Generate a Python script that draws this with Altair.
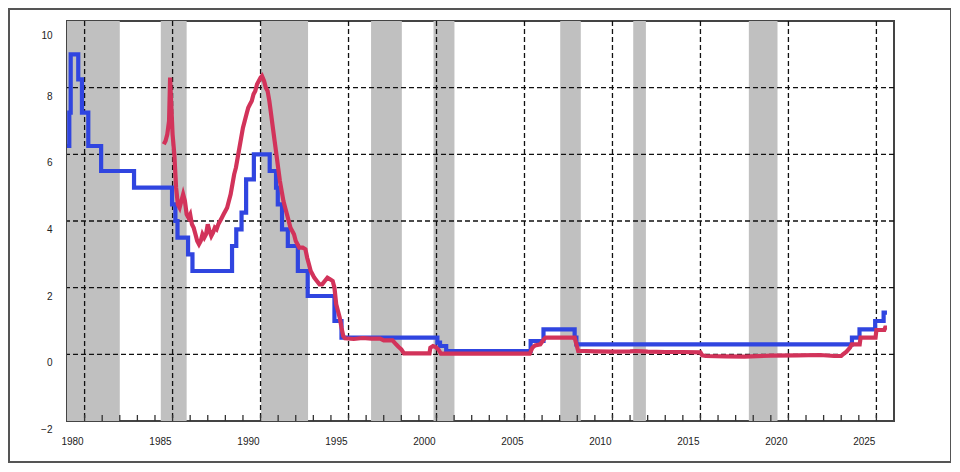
import altair as alt
import pandas as pd

# Official discount rate / basic loan rate (step series)
blue_t = [1980.0, 1980.13, 1980.21, 1980.64, 1980.85, 1981.21, 1981.94, 1983.81,
          1985.97, 1986.16, 1986.28, 1986.88, 1987.13, 1989.38, 1989.62, 1989.92,
          1990.18, 1990.62, 1991.52, 1991.88, 1991.98, 1992.22, 1992.55, 1993.12,
          1993.68, 1995.2, 1995.6, 2001.05, 2001.2, 2001.55, 2006.35, 2007.08,
          2008.85, 2008.95, 2024.61, 2025.04, 2025.93, 2026.41, 2026.6]
blue_v = [6.25, 7.25, 9.0, 8.25, 7.25, 6.25, 5.5, 5.0,
          4.5, 4.0, 3.5, 3.0, 2.5, 3.25, 3.75, 4.25,
          5.25, 6.0, 5.5, 5.0, 4.5, 3.75, 3.25, 2.5,
          1.75, 1.0, 0.5, 0.35, 0.25, 0.1, 0.4, 0.75,
          0.5, 0.3, 0.5, 0.75, 1.0, 1.25, 1.25]

# Call rate (monthly)
red_t = [1985.5, 1985.6, 1985.7, 1985.8, 1985.86, 1985.9, 1985.95, 1986.0, 1986.1, 1986.2,
         1986.3, 1986.4, 1986.5, 1986.6, 1986.7, 1986.8, 1986.9, 1987.0, 1987.1, 1987.2,
         1987.3, 1987.4, 1987.5, 1987.6, 1987.7, 1987.8, 1987.9, 1988.0, 1988.1, 1988.2,
         1988.3, 1988.4, 1988.5, 1988.6, 1988.7, 1988.8, 1988.9, 1989.0, 1989.1, 1989.2,
         1989.3, 1989.4, 1989.5, 1989.6, 1989.7, 1989.8, 1989.9, 1990.0, 1990.1, 1990.2,
         1990.3, 1990.4, 1990.5, 1990.6, 1990.7, 1990.8, 1990.9, 1991.0, 1991.08, 1991.2,
         1991.3, 1991.4, 1991.5, 1991.6, 1991.7, 1991.8, 1991.9, 1992.0, 1992.1, 1992.2,
         1992.3, 1992.4, 1992.5, 1992.6, 1992.7, 1992.8, 1992.9, 1993.0, 1993.1, 1993.2,
         1993.3, 1993.4, 1993.55, 1993.65, 1993.75, 1993.85, 1993.95, 1994.05, 1994.2, 1994.35,
         1994.5, 1994.65, 1994.8, 1994.95, 1995.1, 1995.2, 1995.3, 1995.4, 1995.5, 1995.6,
         1995.7, 1995.8, 1996.3, 1996.8, 1997.3, 1997.8, 1998.0, 1998.5, 1998.7, 1998.85,
         1999.0, 1999.15, 2000.6, 2000.65, 2000.8, 2000.95, 2001.1, 2001.25, 2006.3, 2006.45,
         2006.6, 2006.9, 2007.1, 2007.2, 2008.85, 2008.95, 2009.05, 2009.5, 2010.0, 2011.0,
         2012.0, 2012.3, 2012.7, 2013.0, 2014.0, 2015.0, 2016.0, 2016.1, 2016.3, 2017.4,
         2018.5, 2020.0, 2021.5, 2022.8, 2023.6, 2024.0, 2024.1, 2024.3, 2024.5, 2024.6,
         2025.05, 2025.1, 2025.95, 2026.0, 2026.45, 2026.5, 2026.6]
red_v = [6.3, 6.4, 6.6, 7.0, 8.3, 7.8, 7.2, 6.6, 6.0, 5.0,
         4.5, 4.4, 4.6, 4.8, 4.6, 4.2, 4.1, 4.2, 3.9, 3.8,
         3.6, 3.4, 3.3, 3.4, 3.6, 3.5, 3.6, 3.9, 3.7, 3.55,
         3.65, 3.8, 3.75, 3.9, 4.0, 4.1, 4.2, 4.3, 4.4, 4.6,
         4.8, 5.1, 5.4, 5.6, 5.9, 6.2, 6.5, 6.8, 7.0, 7.2,
         7.4, 7.5, 7.6, 7.8, 7.9, 8.1, 8.2, 8.3, 8.35, 8.2,
         8.0, 7.9, 7.6, 7.2, 6.8, 6.4, 6.0, 5.6, 5.2, 4.9,
         4.6, 4.4, 4.2, 4.0, 3.8, 3.7, 3.6, 3.4, 3.3, 3.2,
         3.2, 3.2, 3.15, 2.9, 2.7, 2.5, 2.4, 2.3, 2.2, 2.1,
         2.1, 2.2, 2.3, 2.25, 2.2, 2.0, 1.5, 1.3, 1.1, 0.8,
         0.55, 0.48, 0.46, 0.49, 0.47, 0.47, 0.42, 0.42, 0.3, 0.22,
         0.15, 0.03, 0.03, 0.2, 0.25, 0.22, 0.15, 0.02, 0.02, 0.2,
         0.27, 0.3, 0.45, 0.5, 0.5, 0.3, 0.1, 0.1, 0.09, 0.08,
         0.09, 0.1, 0.09, 0.08, 0.07, 0.07, 0.06, -0.03, -0.05, -0.06,
         -0.07, -0.04, -0.03, -0.02, -0.05, -0.05, 0.0, 0.08, 0.2, 0.3,
         0.3, 0.5, 0.5, 0.73, 0.73, 0.8, 0.8]

# Recession periods
rec_start = [1980.0, 1985.33, 1991.03, 1997.28, 2000.83, 2008.03, 2012.18, 2018.75]
rec_end = [1983.0, 1986.8, 1993.7, 1999.03, 2002.02, 2009.2, 2012.9, 2020.38]

grid_x = [1981, 1986, 1991, 1996, 2001, 2006, 2011, 2016, 2021, 2026]
grid_y = [0, 2, 4, 6, 8]
tick_years = list(range(1981, 2027))
x_labels = [1980, 1985, 1990, 1995, 2000, 2005, 2010, 2015, 2020, 2025]
y_labels = [-2, 0, 2, 4, 6, 8, 10]

W, H = 827, 400
xs = alt.Scale(domain=[1980, 2027], nice=False, zero=False)
ys = alt.Scale(domain=[-2, 10], nice=False, zero=False)

xaxis = alt.Axis(values=x_labels, title=None, grid=False, ticks=False, domain=False,
                 format="d", labelFlush=False, labelOffset=5, labelPadding=15,
                 labelAlign="center", labelBaseline="top", labelFont="Liberation Sans",
                 labelFontSize=10, labelColor="#222")
yaxis = alt.Axis(values=y_labels, title=None, grid=False, ticks=False, domain=False,
                 format="d", labelPadding=15, labelFont="Liberation Sans", labelFontSize=10,
                 labelColor="#222", labelBaseline="middle",
                 labelOffset={"expr": "datum.value == 10 ? 14 : 8.5"})

blue = pd.DataFrame({"t": blue_t, "v": blue_v})
red = pd.DataFrame({"t": red_t, "v": red_v})
rec = pd.DataFrame({"t": rec_start, "e": rec_end})
gx = pd.DataFrame({"t": grid_x})
gy = pd.DataFrame({"v": grid_y})
tk = pd.DataFrame({"t": tick_years})
one = pd.DataFrame({"a": [0]})

X = alt.X("t:Q", scale=xs, axis=xaxis)
Y = alt.Y("v:Q", scale=ys, axis=yaxis)

shade = alt.Chart(rec).mark_rect(color="#c0c0c0").encode(x=X, x2="e:Q")

vgrid = alt.Chart(gx).mark_rule(color="#111", strokeDash=[5, 3], strokeWidth=1.3).encode(x=X)
hgrid = alt.Chart(gy).mark_rule(color="#111", strokeDash=[5, 3], strokeWidth=1.3).encode(y=Y)
ticks = alt.Chart(tk).mark_rule(color="#333", strokeWidth=1.3).encode(
    x=X, y=alt.value(H - 6), y2=alt.value(H))

blue_line = alt.Chart(blue).mark_line(color="#3045e0", strokeWidth=4.2,
                                      interpolate="step-after").encode(x=X, y=Y)
red_line = alt.Chart(red).mark_line(color="#d2335a", strokeWidth=4.2).encode(x=X, y=Y)

frame = alt.Chart(one).mark_rect(filled=False, stroke="#555", strokeWidth=2).encode(
    x=alt.value(-58), x2=alt.value(884), y=alt.value(-12), y2=alt.value(441))

chart = alt.layer(shade, vgrid, hgrid, ticks, blue_line, red_line, frame).properties(
    width=W, height=H,
    autosize=alt.AutoSizeParams(type="none"),
    padding={"left": 59, "top": 13, "right": 57, "bottom": 43},
    background="white",
).configure_view(stroke="#444", strokeWidth=2)

chart.save("out.html", embed_options={"renderer": "svg", "actions": False})
